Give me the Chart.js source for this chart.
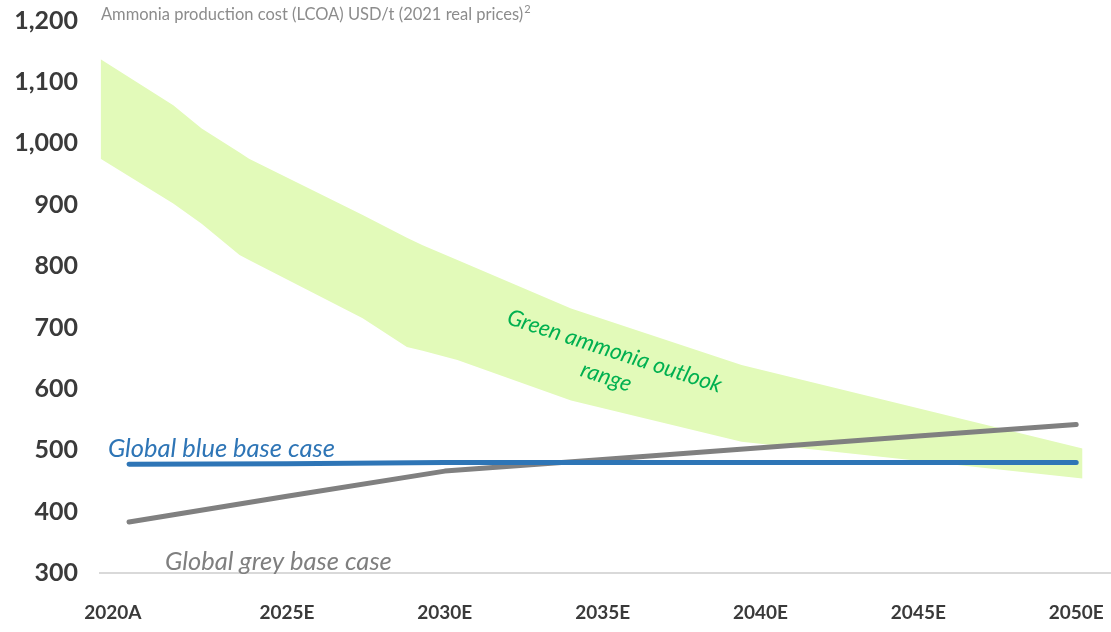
<!DOCTYPE html>
<html>
<head>
<meta charset="utf-8">
<script src="https://cdn.jsdelivr.net/npm/chart.js@4.4.1/dist/chart.umd.min.js"></script>
<style>
  html, body { margin: 0; padding: 0; background: #ffffff; }
  #wrap { width: 1111px; height: 632px; position: relative; }
</style>
</head>
<body>
<div id="wrap"><canvas id="c" width="1111" height="632"></canvas></div>
<script>
// ---- data ----
const tickYears = [2020, 2025, 2030, 2035, 2040, 2045, 2050];
const tickLabels = ['2020A', '2025E', '2030E', '2035E', '2040E', '2045E', '2050E'];
const yTicks = [300, 400, 500, 600, 700, 800, 900, 1000, 1100, 1200];

const lineYears = [2020, 2025, 2030, 2035, 2040, 2045, 2050];
const blueBase = [477, 478, 480, 480, 480, 480, 480];
const greyBase = [383, 425, 466, 485, 504, 523, 542];

const bandYears = [2019.1, 2021.4, 2022.3, 2023.5, 2023.8, 2027.4, 2028.8, 2029.3, 2030.4, 2034.0, 2039.4, 2050.2];
const greenHigh = [1137, 1062, 1024, 985, 975, 883, 846, 834, 810, 731, 639, 503];
const greenLow  = [975, 902, 869, 818, 810, 715, 668, 662, 647, 581, 514, 454];

const unitTitle = 'Ammonia production cost (LCOA) USD/t (2021 real prices)';
const unitNote = '2';
const blueLabel = 'Global blue base case';
const greyLabel = 'Global grey base case';
const greenLabelLines = ['Green ammonia outlook', 'range'];

// ---- styles ----
const BLUE = '#2E75B6';
const GREY = '#808080';
const BAND = 'rgb(226,250,185)';
const GREEN_TXT = '#00B050';
const AXIS_TXT = '#3a3a3a';

const toXY = (xs, ys) => xs.map((x, i) => ({ x: x, y: ys[i] }));

const annotations = {
  id: 'annotations',
  afterDatasetsDraw(chart) {
    const { ctx, scales: { x, y } } = chart;
    ctx.save();
    // unit title
    ctx.fillStyle = '#8c8c8c';
    ctx.font = '16.5px Lato';
    ctx.textAlign = 'left';
    ctx.textBaseline = 'middle';
    const tx = x.getPixelForValue(2019.11), ty = y.getPixelForValue(1209);
    ctx.fillText(unitTitle, tx, ty);
    const w = ctx.measureText(unitTitle).width;
    ctx.font = '11px Lato';
    ctx.fillText(unitNote, tx + w + 1, ty - 6);

    // blue label
    ctx.font = 'italic 25.5px Lato';
    ctx.fillStyle = BLUE;
    ctx.fillText(blueLabel, x.getPixelForValue(2019.33), y.getPixelForValue(503));
    // grey label
    ctx.fillStyle = '#7f7f7f';
    ctx.fillText(greyLabel, x.getPixelForValue(2021.14), y.getPixelForValue(319));

    // green label (rotated)
    ctx.translate(x.getPixelForValue(2035.25), y.getPixelForValue(641));
    ctx.rotate(18 * Math.PI / 180);
    ctx.fillStyle = GREEN_TXT;
    ctx.font = 'italic 22.5px Lato';
    ctx.textAlign = 'center';
    ctx.fillText(greenLabelLines[0], 0, -13);
    ctx.fillText(greenLabelLines[1], 0, 14);
    ctx.restore();
  }
};

new Chart(document.getElementById('c'), {
  type: 'line',
  data: {
    datasets: [
      {
        label: 'Global blue base case',
        data: toXY(lineYears, blueBase),
        borderColor: BLUE,
        borderWidth: 5,
        borderCapStyle: 'round',
        borderJoinStyle: 'round',
        pointRadius: 0,
        fill: false,
        tension: 0
      },
      {
        label: 'Global grey base case',
        data: toXY(lineYears, greyBase),
        borderColor: GREY,
        borderWidth: 5,
        borderCapStyle: 'round',
        borderJoinStyle: 'round',
        pointRadius: 0,
        fill: false,
        tension: 0
      },
      {
        label: 'Green low',
        data: toXY(bandYears, greenLow),
        borderWidth: 0,
        borderColor: 'rgba(0,0,0,0)',
        backgroundColor: BAND,
        pointRadius: 0,
        fill: false,
        tension: 0
      },
      {
        label: 'Green high',
        data: toXY(bandYears, greenHigh),
        borderWidth: 0,
        borderColor: 'rgba(0,0,0,0)',
        backgroundColor: BAND,
        pointRadius: 0,
        fill: '-1',
        tension: 0
      }
    ]
  },
  options: {
    responsive: false,
    animation: false,
    devicePixelRatio: 1,
    layout: { padding: 0 },
    plugins: {
      legend: { display: false },
      tooltip: { enabled: false },
      title: { display: false }
    },
    scales: {
      x: {
        type: 'linear',
        min: 2019.08,
        max: 2051.07,
        grid: { display: false, drawTicks: false },
        border: { display: true, color: '#d9d9d9', width: 2 },
        afterBuildTicks: (s) => { s.ticks = tickYears.map(v => ({ value: v })); },
        afterFit: (s) => { s.height = 59; s.paddingLeft = 0; s.paddingRight = 1; },
        ticks: {
          autoSkip: false,
          maxRotation: 0,
          padding: 28,
          color: AXIS_TXT,
          font: { family: 'Lato', size: 19, weight: 'bold' },
          callback: (v) => {
            const i = tickYears.indexOf(v);
            if (i < 0) return '';
            return i === 0 ? tickLabels[i] + '       ' : tickLabels[i];
          }
        }
      },
      y: {
        type: 'linear',
        min: 300,
        max: 1200,
        grid: { display: false, drawTicks: false },
        border: { display: false },
        afterBuildTicks: (s) => { s.ticks = yTicks.map(v => ({ value: v })); },
        afterFit: (s) => { s.width = 100; s.paddingTop = 20.5; s.paddingBottom = 0; },
        ticks: {
          padding: 22,
          color: AXIS_TXT,
          font: { family: 'Lato', size: 25, weight: 'bold' },
          callback: (v) => v.toLocaleString('en-US')
        }
      }
    }
  },
  plugins: [annotations]
});
</script>
</body>
</html>
